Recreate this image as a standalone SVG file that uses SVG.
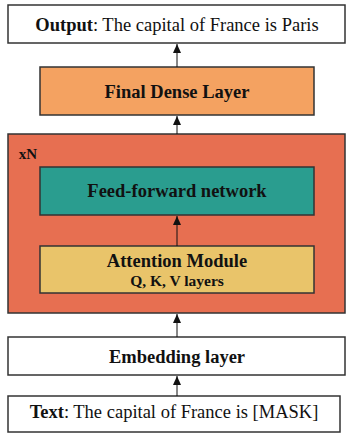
<svg xmlns="http://www.w3.org/2000/svg" width="346" height="433" viewBox="0 0 346 433">
<style>
.box{stroke:#333;stroke-width:1.5}
.t{font-family:"Liberation Serif","Times New Roman",serif;fill:#111;text-anchor:middle}
.b{font-weight:bold}
.conn{stroke:#111;stroke-width:1;fill:none;marker-end:url(#ah)}
</style>
<defs>
<marker id="ah" markerWidth="9" markerHeight="8" refX="9" refY="4" orient="auto" markerUnits="userSpaceOnUse">
<path d="M0,0 L9,4 L0,8 Z" fill="#111"/>
</marker>
</defs>
<rect width="346" height="433" fill="#fff"/>
<g id="output">
<rect class="box" x="8" y="5" width="337" height="38" fill="#fff"/>
<text class="t" x="177" y="31" font-size="18.5"><tspan class="b">Output</tspan>: The capital of France is Paris</text>
</g>
<g id="final-dense">
<rect class="box" x="40" y="67" width="274" height="48" fill="#F4A261"/>
<text class="t b" x="177" y="98" font-size="18.5">Final Dense Layer</text>
</g>
<g id="block">
<rect class="box" x="8" y="134" width="337" height="179" fill="#E76F51"/>
<text class="t b" x="28" y="159" font-size="15">xN</text>
</g>
<g id="ffn">
<rect class="box" x="40" y="167" width="274" height="48" fill="#2A9D8F"/>
<text class="t b" x="177" y="197" font-size="18.5">Feed-forward network</text>
</g>
<g id="attention">
<rect class="box" x="40" y="246" width="274" height="47" fill="#E9C46A"/>
<text class="t b" x="177" y="267" font-size="18.5">Attention Module</text>
<text class="t b" x="177" y="286" font-size="15.5">Q, K, V layers</text>
</g>
<g id="embedding">
<rect class="box" x="8" y="337" width="337" height="38" fill="#fff"/>
<text class="t b" x="177" y="363" font-size="18.5">Embedding layer</text>
</g>
<g id="input">
<rect class="box" x="8" y="396" width="332" height="36" fill="#fff"/>
<text class="t" x="174" y="418" font-size="18.5"><tspan class="b">Text</tspan>: The capital of France is [MASK]</text>
</g>
<g id="connectors">
<line class="conn" x1="177" y1="67" x2="177" y2="44"/>
<line class="conn" x1="177" y1="134" x2="177" y2="116"/>
<line class="conn" x1="177" y1="246" x2="177" y2="216"/>
<line class="conn" x1="177" y1="337" x2="177" y2="314"/>
<line class="conn" x1="177" y1="396" x2="177" y2="376"/>
</g>
</svg>
